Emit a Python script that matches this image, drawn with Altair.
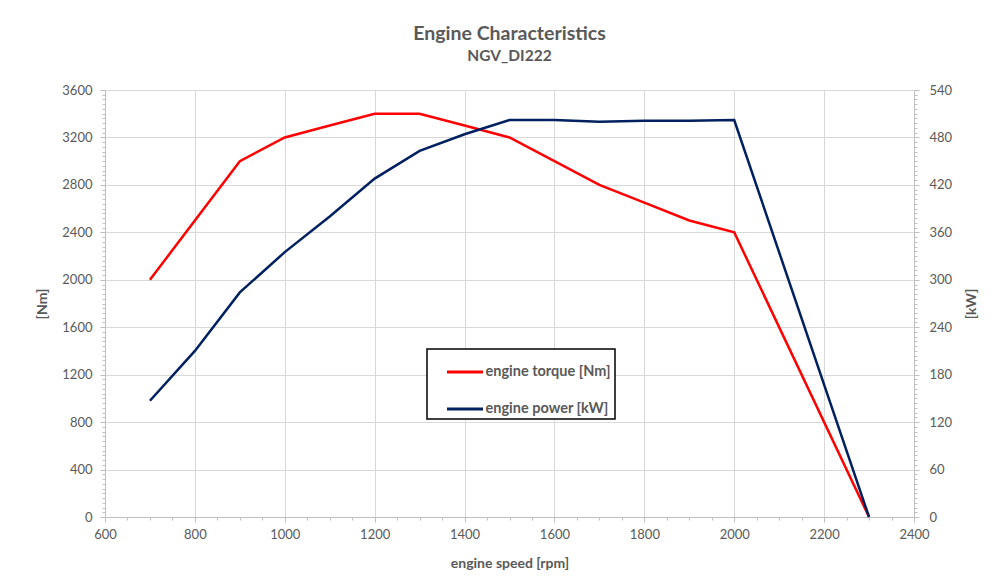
import altair as alt
import pandas as pd

rpm = [700, 800, 900, 1000, 1100, 1200, 1300, 1400, 1500, 1600, 1700, 1800, 1900, 2000, 2300]
torque = [2000, 2500, 3000, 3200, 3300, 3400, 3400, 3300, 3200, 3000, 2800, 2650, 2500, 2400, 0]
power = [147, 210, 284, 335, 380, 428, 463, 484, 502, 502, 500, 501, 501, 502, 0]
series_names = ["engine torque [Nm]", "engine power [kW]"]
series_colors = ["#ff0000", "#002060"]

x_ticks = list(range(600, 2401, 50))
left_ticks = list(range(0, 3601, 40))
right_ticks = list(range(0, 541, 6))

df_t = pd.DataFrame({"rpm": rpm, "value": torque, "series": series_names[0]})
df_p = pd.DataFrame({"rpm": rpm, "value": power, "series": series_names[1]})

FONT = "Lato"
GRAY = "#595959"

color = alt.Color(
    "series:N",
    scale=alt.Scale(domain=series_names, range=series_colors),
    legend=alt.Legend(
        title=None, orient="none", legendX=322, legendY=259,
        strokeColor="black", fillColor="white",
        padding=3.5, rowPadding=11, symbolType="stroke", symbolSize=1296,
        symbolOffset=15,
        symbolStrokeWidth=3, labelOffset=1, labelFont=FONT, labelFontSize=14.5,
        labelColor=GRAY, labelFontWeight="bold",
    ),
)

x_enc = alt.X(
    "rpm:Q",
    scale=alt.Scale(domain=[600, 2400], nice=False, zero=False),
    axis=alt.Axis(
        title="engine speed [rpm]", values=x_ticks,
        labelExpr="datum.value % 200 === 0 ? datum.label : ''",
        gridOpacity={"condition": {"test": "datum.value % 200 === 0", "value": 1}, "value": 0},
        tickSize={"condition": {"test": "datum.value % 200 === 0", "value": 5}, "value": 3},
        labelPadding=6, titlePadding=15, format="d",
        labelOverlap=False, labelFlush=False,
    ),
)

torque_layer = alt.Chart(df_t).mark_line(strokeWidth=2.5).encode(
    x=x_enc,
    y=alt.Y(
        "value:Q",
        scale=alt.Scale(domain=[0, 3600], nice=False),
        axis=alt.Axis(
            title="[Nm]", orient="left", values=left_ticks,
            labelExpr="datum.value % 400 === 0 ? datum.label : ''",
            gridOpacity={"condition": {"test": "datum.value % 400 === 0", "value": 1}, "value": 0},
            tickSize={"condition": {"test": "datum.value % 400 === 0", "value": 5}, "value": 3},
            labelPadding=8, titlePadding=12, format="d",
            labelOverlap=False, labelFlush=False,
        ),
    ),
    color=color,
)

power_layer = alt.Chart(df_p).mark_line(strokeWidth=2.5).encode(
    x=x_enc,
    y=alt.Y(
        "value:Q",
        scale=alt.Scale(domain=[0, 540], nice=False),
        axis=alt.Axis(
            title="[kW]", orient="right", values=right_ticks, grid=False,
            titleAngle=270, titleBaseline="bottom",
            labelExpr="datum.value % 60 === 0 ? datum.label : ''",
            tickSize={"condition": {"test": "datum.value % 60 === 0", "value": 5}, "value": 3},
            labelPadding=10, titlePadding=27, format="d",
            labelOverlap=False, labelFlush=False,
        ),
    ),
    color=color,
)

chart = alt.layer(torque_layer, power_layer).resolve_scale(y="independent").properties(
    width=809,
    height=427,
    autosize=alt.AutoSizeParams(type="none"),
    padding={"left": 97, "top": 82, "right": 75, "bottom": 53},
    title=alt.TitleParams(
        text="Engine Characteristics", subtitle="NGV_DI222",
        font=FONT, fontSize=19.5, fontWeight="bold", color=GRAY,
        subtitleFont=FONT, subtitleFontSize=15.5, subtitleFontWeight="bold",
        subtitleColor=GRAY, anchor="middle", offset=19, subtitlePadding=4,
    ),
).configure_view(stroke=None).configure_axis(
    domainColor="#bfbfbf", tickColor="#bfbfbf", gridColor="#d9d9d9",
    labelColor=GRAY, titleColor=GRAY, labelFont=FONT, titleFont=FONT,
    labelFontSize=13, titleFontSize=14, titleFontWeight="bold",
    domainWidth=1, gridWidth=1,
).configure_legend(strokeWidth=1.5)

chart.save("out.html", embed_options={"renderer": "svg", "actions": False})
